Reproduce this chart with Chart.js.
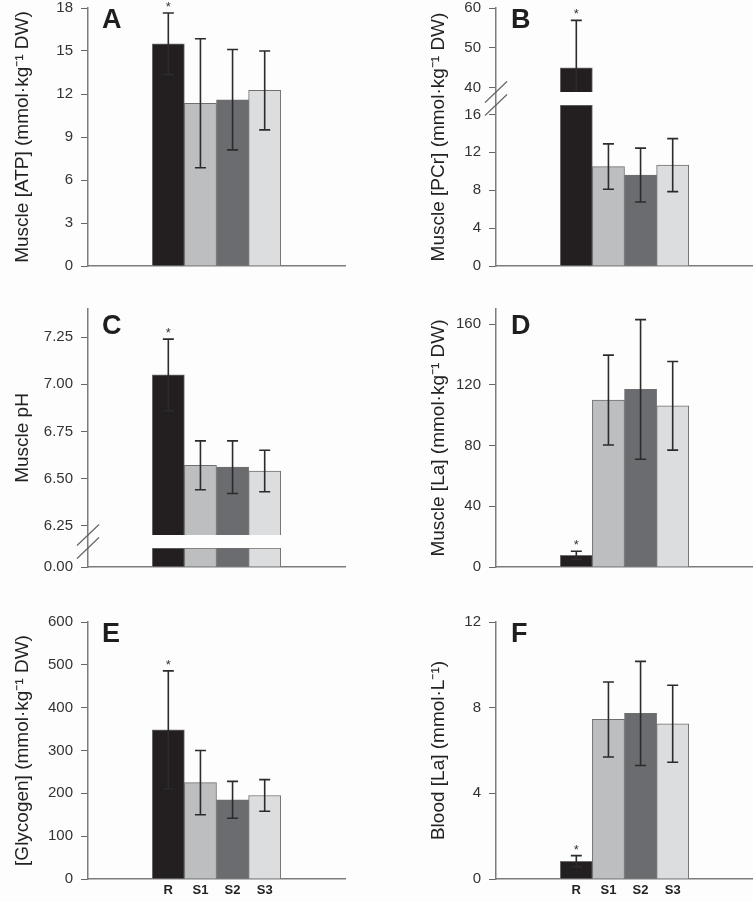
<!DOCTYPE html>
<html>
<head>
<meta charset="utf-8">
<title>Muscle metabolites and blood lactate</title>
<script src="https://cdn.jsdelivr.net/npm/chart.js@4.4.1/dist/chart.umd.min.js"></script>
<style>
  body { margin: 0; background: #fdfdfd; }
  #figure { position: relative; width: 753px; height: 902px; overflow: hidden; }
  .panel { position: absolute; }
</style>
</head>
<body>
<div id="figure">
  <div class="panel" style="left:0;top:0;width:376px;height:290px"><canvas id="chartA"></canvas></div>
  <div class="panel" style="left:376px;top:0;width:377px;height:290px"><canvas id="chartB"></canvas></div>
  <div class="panel" style="left:0;top:290px;width:376px;height:300px"><canvas id="chartC"></canvas></div>
  <div class="panel" style="left:376px;top:290px;width:377px;height:300px"><canvas id="chartD"></canvas></div>
  <div class="panel" style="left:0;top:590px;width:376px;height:312px"><canvas id="chartE"></canvas></div>
  <div class="panel" style="left:376px;top:590px;width:377px;height:312px"><canvas id="chartF"></canvas></div>
</div>
<script>
// groups: rest and the three sprints
const categories = ["R", "S1", "S2", "S3"];
const marked = ["R"];   // groups with an asterisk

// A - muscle ATP
const atpMean = [15.5, 11.35, 11.6, 12.25];
const atpSd = [2.15, 4.5, 3.5, 2.75];
const atpTicks = [0, 3, 6, 9, 12, 15, 18];

// B - muscle PCr (broken axis)
const pcrMean = [45.0, 10.5, 9.6, 10.65];
const pcrSd = [11.9, 2.4, 2.85, 2.8];
const pcrTicksLow = [0, 4, 8, 12, 16];
const pcrTicksHigh = [40, 50, 60];

// C - muscle pH (broken axis)
const phMean = [7.05, 6.57, 6.56, 6.54];
const phSd = [0.19, 0.13, 0.14, 0.11];
const phTicksLow = [0];
const phTicksHigh = [6.25, 6.5, 6.75, 7.0, 7.25];

// D - muscle lactate
const laMuscleMean = [7.7, 110, 117, 106.2];
const laMuscleSd = [2.7, 29.6, 46, 29.2];
const laMuscleTicks = [0, 40, 80, 120, 160];

// E - glycogen
const glycogenMean = [348, 225, 185, 195];
const glycogenSd = [138, 75, 43, 37];
const glycogenTicks = [0, 100, 200, 300, 400, 500, 600];

// F - blood lactate
const laBloodMean = [0.83, 7.45, 7.73, 7.25];
const laBloodSd = [0.26, 1.75, 2.43, 1.8];
const laBloodTicks = [0, 4, 8, 12];

const barColors = ["#231f20", "#bdbec0", "#6b6c6f", "#dcdddf"];
const axisColor = "#7d7d7d";
const FONT = "'Liberation Sans', Arial, sans-serif";

Chart.defaults.font.family = FONT;

const columns = {
    left: { titleWidth: 40, tickWidth: 48, titlePad: 11, padRight: 31, letterDx: 14 },
    right: { titleWidth: 80, tickWidth: 40, titlePad: 51, padRight: 0, letterDx: 15 }
};

const rows = [
    { padTop: 8, padBottom: 24, axisHeight: 0, letterDy: 20, showLabels: false },
    { padTop: 19, padBottom: 23, axisHeight: 0, letterDy: 25, showLabels: false },
    { padTop: 32, padBottom: 0, axisHeight: 23, letterDy: 20, showLabels: true }
];

const panels = [
    {
        canvas: "chartA", letter: "A", col: "left", row: 0,
        title: "Muscle [ATP] (mmol·kg⁻¹ DW)", mean: atpMean, sd: atpSd, decimals: 0,
        segments: [{ min: 0, max: 18, ticks: atpTicks, weight: 1 }]
    },
    {
        canvas: "chartB", letter: "B", col: "right", row: 0,
        title: "Muscle [PCr] (mmol·kg⁻¹ DW)", mean: pcrMean, sd: pcrSd, decimals: 0,
        segments: [
            { min: 0, max: 17, ticks: pcrTicksLow, weight: 161 },
            { gap: true, weight: 13 },
            { min: 38.9, max: 60, ticks: pcrTicksHigh, weight: 84 }
        ]
    },
    {
        canvas: "chartC", letter: "C", col: "left", row: 1,
        title: "Muscle pH", mean: phMean, sd: phSd, decimals: 2,
        segments: [
            { min: 0, max: 1, ticks: phTicksLow, weight: 19 },
            { gap: true, weight: 13 },
            { min: 6.2, max: 7.4, ticks: phTicksHigh, weight: 226 }
        ]
    },
    {
        canvas: "chartD", letter: "D", col: "right", row: 1,
        title: "Muscle [La] (mmol·kg⁻¹ DW)", mean: laMuscleMean, sd: laMuscleSd, decimals: 0,
        segments: [{ min: 0, max: 170, ticks: laMuscleTicks, weight: 1 }]
    },
    {
        canvas: "chartE", letter: "E", col: "left", row: 2,
        title: "[Glycogen] (mmol·kg⁻¹ DW)", mean: glycogenMean, sd: glycogenSd, decimals: 0,
        segments: [{ min: 0, max: 600, ticks: glycogenTicks, weight: 1 }]
    },
    {
        canvas: "chartF", letter: "F", col: "right", row: 2,
        title: "Blood [La] (mmol·L⁻¹)", mean: laBloodMean, sd: laBloodSd, decimals: 0,
        segments: [{ min: 0, max: 12, ticks: laBloodTicks, weight: 1 }]
    }
];

// two empty slots each side of the four bars
const pad = (arr, fill) => [fill, fill, ...arr, fill, fill];

// part of each bar that falls inside one axis segment (floating bar)
const segmentBars = (values, seg) =>
    values.map(v => (v > seg.min ? [seg.min, Math.min(v, seg.max)] : null));

// error bars, asterisks, panel letter and axis break marks
function overlay(p) {
    const col = columns[p.col];
    const row = rows[p.row];
    return {
        id: "overlay" + p.letter,
        afterDraw(chart) {
            const ctx = chart.ctx;
            const area = chart.chartArea;
            ctx.save();

            categories.forEach((cat, i) => {
                const m = p.mean[i];
                const s = p.sd[i];
                const k = p.segments.findIndex(seg => !seg.gap && m >= seg.min && m <= seg.max);
                const y = chart.scales["y" + k];
                const x = chart.scales.x.getPixelForValue(i + 2);
                const hi = y.getPixelForValue(Math.min(m + s, y.max));
                const lo = y.getPixelForValue(Math.max(m - s, y.min));
                ctx.strokeStyle = "#2b2b2b";
                ctx.lineWidth = 1.6;
                ctx.beginPath();
                ctx.moveTo(x, hi); ctx.lineTo(x, lo);
                ctx.moveTo(x - 5.5, hi); ctx.lineTo(x + 5.5, hi);
                if (m - s >= y.min) { ctx.moveTo(x - 5.5, lo); ctx.lineTo(x + 5.5, lo); }
                ctx.stroke();
                if (marked.includes(cat)) {
                    ctx.fillStyle = "#333";
                    ctx.font = "13px " + FONT;
                    ctx.textAlign = "center";
                    ctx.textBaseline = "alphabetic";
                    ctx.fillText("*", x, hi - 2);
                }
            });

            p.segments.forEach((seg, k) => {
                if (!seg.gap) return;
                const g = chart.scales["y" + k];
                ctx.strokeStyle = "#666";
                ctx.lineWidth = 1.2;
                [g.top, g.bottom].forEach(yy => {
                    ctx.beginPath();
                    ctx.moveTo(area.left - 11, yy + 10.5);
                    ctx.lineTo(area.left + 11, yy - 10.5);
                    ctx.stroke();
                });
            });

            ctx.fillStyle = "#1e1e1e";
            ctx.font = "bold 27px " + FONT;
            ctx.textAlign = "left";
            ctx.textBaseline = "alphabetic";
            ctx.fillText(p.letter, area.left + col.letterDx, area.top + row.letterDy);
            ctx.restore();
        }
    };
}

function makeChart(p) {
    const col = columns[p.col];
    const row = rows[p.row];

    const scales = {
        x: {
            type: "category",
            labels: pad(categories, ""),
            offset: true,
            afterFit: s => { s.height = row.axisHeight; s.paddingLeft = 0; s.paddingRight = 0; },
            grid: { display: false, drawTicks: false },
            border: { color: axisColor, width: 1.5 },
            ticks: {
                display: row.showLabels,
                autoSkip: false,
                maxRotation: 0,
                padding: 4,
                color: "#222",
                font: { size: 13, weight: "bold" }
            }
        }
    };
    const datasets = [];

    p.segments.forEach((seg, k) => {
        const id = "y" + k;
        const scale = {
            type: "linear",
            position: "left",
            stack: "value",
            stackWeight: seg.weight,
            afterFit: s => { s.width = col.tickWidth; s.paddingTop = 0; s.paddingBottom = 0; },
            border: { color: axisColor, width: 1.5 }
        };
        if (seg.gap) {
            scale.min = 0;
            scale.max = 1;
            scale.ticks = { display: false };
            scale.grid = { display: false };
        } else {
            scale.min = seg.min;
            scale.max = seg.max;
            scale.afterBuildTicks = s => { s.ticks = seg.ticks.map(v => ({ value: v })); };
            scale.ticks = {
                autoSkip: false,
                padding: 8,
                color: "#333",
                font: { size: 15 },
                callback: v => Number(v).toFixed(p.decimals)
            };
            scale.grid = { display: true, drawOnChartArea: false, drawTicks: true, tickLength: 7, color: "#666", lineWidth: 1 };
            datasets.push({
                yAxisID: id,
                data: pad(segmentBars(p.mean, seg), null),
                backgroundColor: pad(barColors, "transparent"),
                borderColor: "#6f6f6f",
                borderWidth: 1,
                borderSkipped: "start",
                barPercentage: 1,
                categoryPercentage: 1,
                grouped: false,
                clip: 0
            });
        }
        scales[id] = scale;
    });

    // outer scale that only carries the axis title, centred on the whole plot
    scales.yt = {
        type: "linear",
        position: "left",
        afterFit: s => { s.width = col.titleWidth; s.paddingTop = 0; s.paddingBottom = 0; },
        ticks: { display: false },
        grid: { display: false },
        border: { display: false },
        title: {
            display: true,
            text: p.title,
            color: "#222",
            font: { size: 19 },
            padding: { top: col.titlePad, bottom: 0 }
        }
    };

    return new Chart(document.getElementById(p.canvas), {
        type: "bar",
        data: { labels: pad(categories, ""), datasets: datasets },
        options: {
            responsive: true,
            maintainAspectRatio: false,
            animation: false,
            events: [],
            layout: { padding: { top: row.padTop, bottom: row.padBottom, left: 0, right: col.padRight } },
            plugins: { legend: { display: false }, tooltip: { enabled: false } },
            scales: scales
        },
        plugins: [overlay(p)]
    });
}

panels.forEach(makeChart);
</script>
</body>
</html>
